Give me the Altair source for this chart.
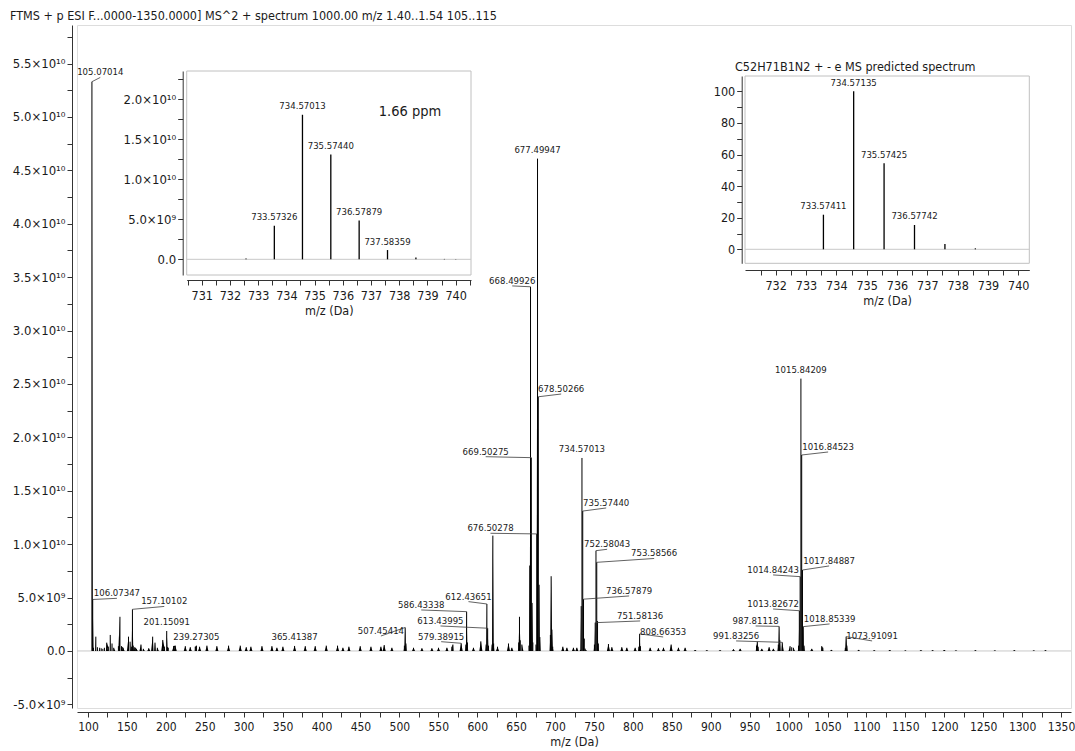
import altair as alt
import pandas as pd

# ---------------------------------------------------------------------------
# MS/MS spectrum of m/z 1000
# ---------------------------------------------------------------------------
MAIN_MZ = [
    105.07014, 106.07347, 107.07, 110.07, 112.08, 115.05, 117.07, 119.09, 121.10,
    124.1, 126.1, 128.6, 130.9, 133.1, 139.1, 141.07, 143.1, 145.1, 152.06, 154.1,
    156.1, 157.10102, 158.1, 160.1, 162.1, 168.1, 171.1, 178.1, 183.1, 186.1, 189.1,
    196.1, 198.1, 201.15091, 202.15, 203.1, 210.1, 212.1, 225.0, 231.4, 237.8,
    239.27305, 243.4, 252.8, 265.6, 280.6, 295.6, 303.3, 309.3, 323.5, 336.3, 342.7,
    350.4, 365.41387, 379.1, 391.9, 406.1, 420.6, 427.5, 435.2, 449.7, 463.5, 476.3,
    480.5, 490.4, 506.45, 507.45414, 508.46, 518.2, 529.0, 541.8, 550.3, 561.1,
    567.5, 568.8, 579.38915, 585.43, 586.43338, 587.44, 595.2, 604.7, 611.43,
    612.43651, 613.43995, 614.44, 619.1, 620.1, 621.1, 626.1, 640.2, 644.5, 653.3,
    654.3, 655.3, 657.4, 666.5, 667.50, 668.49926, 669.50275, 670.51, 671.5, 675.5,
    676.50278, 677.49947, 678.50266, 679.51, 680.51, 694.0, 695.0, 696.0, 697.0,
    710.0, 715.2, 723.6, 728.0, 732.57, 733.57326, 734.57013, 735.57440, 736.57879,
    737.58359, 738.59, 739.6, 740.0, 750.58, 751.58136, 752.58043, 753.58566, 754.59,
    755.59, 768.6, 773.0, 785.8, 792.2, 802.9, 807.66, 808.66353, 809.67, 822.2,
    832.8, 839.3, 849.1, 858.5, 867.1, 880.0, 895.0, 912.0, 929.2, 937.8, 958.8,
    959.8, 960.8, 965.6, 975.0, 980.5, 986.8, 987.81118, 988.81, 991.83256, 1001.9,
    1004.0, 1006.2, 1012.83, 1013.82672, 1014.84243, 1015.84209, 1016.84523,
    1017.84887, 1018.85339, 1019.86, 1029.8, 1042.6, 1044.0, 1055.0, 1072.91,
    1073.91091, 1074.91, 1090.0, 1110.0, 1130.0, 1150.0, 1170.0, 1185.0, 1200.0,
    1215.0, 1240.0, 1265.0, 1290.0, 1315.0, 1330.0,
]
MAIN_INT = [
    5.33e10, 4.82e9, 3.0e8, 1.34e9, 3.5e8, 3.0e8, 2.5e8, 2.0e8, 3.0e8,
    7.8e8, 4.0e8, 1.5e9, 7.0e8, 3.0e8, 4.5e8, 3.2e9, 4.5e8, 3.0e8, 1.34e9, 8.7e8,
    4.0e8, 3.9e9, 5.0e8, 3.5e8, 2.0e8, 6.0e8, 2.0e8, 2.5e8, 1.34e9, 7.8e8, 3.0e8,
    1.03e9, 4.0e8, 1.87e9, 3.5e8, 3.0e8, 4.7e8, 5.0e8, 4.5e8, 3.5e8, 4.0e8,
    5.0e8, 4.0e8, 5.0e8, 4.5e8, 5.0e8, 5.0e8, 3.5e8, 4.0e8, 4.5e8, 4.5e8, 3.0e8,
    4.0e8, 4.7e8, 4.5e8, 4.5e8, 5.0e8, 5.0e8, 3.0e8, 4.0e8, 4.5e8, 4.0e8, 4.0e8,
    5.5e8, 3.0e8, 5.0e8, 2.2e9, 7.0e8, 3.0e8, 2.5e8, 2.5e8, 3.0e8, 3.0e8,
    4.0e8, 6.0e8, 7.2e8, 6.0e8, 3.68e9, 8.0e8, 3.0e8, 9.0e8, 6.0e8,
    4.4e9, 2.13e9, 5.0e8, 6.0e8, 1.08e10, 7.0e8, 4.0e8, 7.0e8, 3.0e8, 8.0e8,
    3.2e9, 1.0e9, 6.0e8, 5.0e8, 8.0e9, 3.41e10, 1.81e10, 4.5e9, 8.0e8, 6.0e8,
    1.096e10, 4.61e10, 2.38e10, 6.2e9, 1.3e9, 1.5e9, 7.0e9, 2.0e9, 4.0e8,
    4.0e8, 3.0e8, 3.0e8, 3.0e8, 1.0e8, 4.2e9, 1.807e10, 1.31e10, 4.85e9,
    1.16e9, 2.2e8, 5.0e7, 5.0e7, 6.0e8, 2.65e9, 9.39e9, 8.3e9, 2.8e9,
    7.0e8, 6.5e8, 3.5e8, 3.5e8, 3.0e8, 3.0e8, 4.0e8, 1.6e9, 4.5e8, 3.0e8,
    2.5e8, 3.0e8, 6.0e8, 3.0e8, 3.0e8, 8.0e7, 6.0e7, 7.0e7, 1.5e8, 2.0e8, 5.0e8,
    8.7e8, 4.0e8, 2.0e8, 3.5e8, 2.0e8, 6.0e8, 2.3e9, 1.0e9, 8.1e8, 4.5e8,
    3.5e8, 3.0e8, 5.0e8, 3.77e9, 6.96e9, 2.55e10, 1.835e10,
    7.58e9, 2.28e9, 5.0e8, 2.0e8, 4.5e8, 3.0e8, 1.0e8, 3.0e8,
    1.34e9, 5.0e8, 1.0e8, 6.0e7, 8.0e7, 5.0e7, 7.0e7, 6.0e7, 9.0e7,
    5.0e7, 6.0e7, 5.0e7, 7.0e7, 5.0e7, 6.0e7,
]

# peaks annotated through a leader line: peak m/z and where the leader ends
LEADER_MZ = [
    105.07014, 106.07347, 157.10102, 507.45414, 579.38915, 586.43338, 612.43651,
    613.43995, 668.49926, 669.50275, 676.50278, 678.50266, 735.57440, 736.57879,
    751.58136, 752.58043, 753.58566, 808.66353, 987.81118, 991.83256, 1013.82672,
    1014.84243, 1016.84523, 1017.84887, 1018.85339, 1073.91091,
]
LEADER_END_MZ = [
    115.8, 137.2, 198.0, 476.3, 553.7, 528.1, 588.8, 552.8, 645.0, 610.9, 617.1,
    707.9, 765.7, 795.2, 809.3, 766.9, 827.3, 838.9, 957.7, 932.6, 980.1, 980.1,
    1050.8, 1052.1, 1052.7, 1107.3,
]
LEADER_END_INT = [
    5.37e10, 4.93e9, 4.17e9, 1.40e9, 8.7e8, 3.84e9, 4.62e9, 2.34e9, 3.418e10,
    1.819e10, 1.102e10, 2.406e10, 1.339e10, 5.15e9, 2.81e9, 9.52e9, 8.66e9, 1.31e9,
    2.34e9, 9.4e8, 3.93e9, 7.12e9, 1.863e10, 7.96e9, 2.53e9, 9.4e8,
]
# peaks annotated directly above their apex
TOP_LABEL_MZ = [201.15091, 239.27305, 365.41387, 677.49947, 734.57013, 1015.84209]

# zoom on the molecular ion cluster
ZOOM_LABEL_MZ = [733.57326, 734.57013, 735.57440, 736.57879, 737.58359]

# predicted isotope pattern of C52H71B1N2+
PRED_MZ = [733.57411, 734.57135, 735.57425, 736.57742, 737.58070, 738.58400, 739.58700]
PRED_REL = [21.9, 100.0, 54.4, 15.4, 3.4, 0.6, 0.1]
PRED_LABEL_MZ = [733.57411, 734.57135, 735.57425, 736.57742]

MAIN_TITLE = "FTMS + p ESI F...0000-1350.0000] MS^2 + spectrum 1000.00 m/z 1.40..1.54 105..115"
INSET2_TITLE = "C52H71B1N2 +  - e MS predicted spectrum"
PPM_TEXT = "1.66 ppm"

# axis ticks and their labels
MAIN_X_LABEL_VALUES = [100, 150, 200, 250, 300, 350, 400, 450, 500, 550, 600, 650, 700,
                       750, 800, 850, 900, 950, 1000, 1050, 1100, 1150, 1200, 1250, 1300, 1350]
MAIN_Y_LABEL_VALUES = [-5e9, 0.0, 5e9, 1e10, 1.5e10, 2e10, 2.5e10, 3e10, 3.5e10,
                       4e10, 4.5e10, 5e10, 5.5e10]
MAIN_Y_LABELS = ["-5.0×10⁹", "0.0", "5.0×10⁹", "1.0×10¹⁰", "1.5×10¹⁰", "2.0×10¹⁰",
                 "2.5×10¹⁰", "3.0×10¹⁰", "3.5×10¹⁰", "4.0×10¹⁰", "4.5×10¹⁰",
                 "5.0×10¹⁰", "5.5×10¹⁰"]
IN1_X_LABEL_VALUES = [731, 732, 733, 734, 735, 736, 737, 738, 739, 740]
IN1_Y_LABEL_VALUES = [0.0, 5e9, 1e10, 1.5e10, 2e10]
IN1_Y_LABELS = ["0.0", "5.0×10⁹", "1.0×10¹⁰", "1.5×10¹⁰", "2.0×10¹⁰"]
IN2_X_LABEL_VALUES = [732, 733, 734, 735, 736, 737, 738, 739, 740]
IN2_Y_LABEL_VALUES = [0, 20, 40, 60, 80, 100]

FONT = "DejaVu Sans Condensed, DejaVu Sans"
INK = "#1a1a1a"
FRAME = "#c0c0c0"
W, H = 994, 683
PROFILE_HALF_WIDTH = 2.0  # m/z half-width of the drawn peak skirt


def label_expr(values, labels):
    parts = [f"datum.value == {float(v)!r} ? '{t}'" for v, t in zip(values, labels)]
    return " : ".join(parts) + " : ''"


def with_minor(values, step):
    return sorted(set([float(v) for v in values] + [float(v) + step for v in values]
                      + [float(values[0]) - step]))


def axis_style(size, pad):
    return dict(grid=False, tickSize=5, tickColor="#333333", domainColor="#333333",
                labelFont=FONT, labelFontSize=size, labelColor=INK, labelPadding=pad,
                labelOverlap=False, labelFlush=False, titleFont=FONT, titleFontSize=12.5,
                titleFontWeight="normal", titleColor=INK, titlePadding=3)


# ---------------------------------------------------------------- data frames
main_df = pd.DataFrame({"mz": MAIN_MZ, "intensity": MAIN_INT})
main_df["base"] = 0.0
peak_lookup = dict(zip(MAIN_MZ, MAIN_INT))

# each peak also gets a narrow skirt: foot, apex, foot
skirt_rows = []
for i, (m, h) in enumerate(zip(MAIN_MZ, MAIN_INT)):
    skirt_rows += [(i, m - PROFILE_HALF_WIDTH, 0.0), (i, m, h), (i, m + PROFILE_HALF_WIDTH, 0.0)]
skirt_df = pd.DataFrame(skirt_rows, columns=["peak", "mz", "intensity"])

lead_df = pd.DataFrame({"mz": LEADER_MZ, "end_mz": LEADER_END_MZ, "end_int": LEADER_END_INT})
lead_df["intensity"] = [peak_lookup[m] for m in LEADER_MZ]
lead_df["label"] = [f"{m:.5f}" for m in LEADER_MZ]

top_df = pd.DataFrame({"mz": TOP_LABEL_MZ})
top_df["intensity"] = [peak_lookup[m] for m in TOP_LABEL_MZ]
top_df["label"] = [f"{m:.5f}" for m in TOP_LABEL_MZ]

# ---------------------------------------------------------------- scales
MAIN_XD, MAIN_YD = [85.9, 1362.8], [-5.34e9, 5.861e10]
IN1_XD, IN1_YD = [730.468, 740.542], [-1.96e9, 2.354e10]
IN2_XD, IN2_YD = [730.988, 740.363], [-8.86, 109.7]


def xs_main():
    return alt.Scale(domain=MAIN_XD, range=[0, W], nice=False, zero=False)


def ys_main():
    return alt.Scale(domain=MAIN_YD, range=[H, 0], nice=False, zero=False)


def xs_in1():
    return alt.Scale(domain=IN1_XD, range=[109.7, 394], nice=False, zero=False)


def ys_in1():
    return alt.Scale(domain=IN1_YD, range=[250, 46], nice=False, zero=False)


def xs_in2():
    return alt.Scale(domain=IN2_XD, range=[668, 952.3], nice=False, zero=False)


def ys_in2():
    return alt.Scale(domain=IN2_YD, range=[238.3, 51], nice=False, zero=False)


# ---------------------------------------------------------------- main spectrum
x_main_axis = alt.Axis(orient="bottom", offset=4,
                       values=with_minor(MAIN_X_LABEL_VALUES, 25),
                       labelExpr=label_expr(MAIN_X_LABEL_VALUES, [str(v) for v in MAIN_X_LABEL_VALUES]),
                       **axis_style(12, 4))
y_main_axis = alt.Axis(orient="left", offset=5,
                       values=with_minor(MAIN_Y_LABEL_VALUES, 2.5e9),
                       labelExpr=label_expr(MAIN_Y_LABEL_VALUES, MAIN_Y_LABELS),
                       **axis_style(13, 2))

zero_main = alt.Chart(pd.DataFrame({"v": [0.0]})).mark_rule(color="#c8c8c8", strokeWidth=1).encode(
    y=alt.Y("v:Q", scale=ys_main(), axis=None))

skirts = alt.Chart(skirt_df).mark_area(color="black", interpolate="linear").encode(
    x=alt.X("mz:Q", scale=xs_main(), axis=None),
    y=alt.Y("intensity:Q", scale=ys_main(), axis=None),
    detail="peak:N")

peaks = alt.Chart(main_df).mark_rule(color="black", strokeWidth=1).encode(
    x=alt.X("mz:Q", scale=xs_main(), axis=x_main_axis, title="m/z (Da)"),
    y=alt.Y("base:Q", scale=ys_main(), axis=y_main_axis, title=None),
    y2="intensity:Q")

leaders = alt.Chart(lead_df).mark_rule(color="#3a3a3a", strokeWidth=0.8).encode(
    x=alt.X("mz:Q", scale=xs_main(), axis=None),
    y=alt.Y("intensity:Q", scale=ys_main(), axis=None),
    x2="end_mz:Q", y2="end_int:Q")

leader_text = alt.Chart(lead_df).mark_text(font=FONT, fontSize=9.5, color=INK,
                                           baseline="middle", dy=-5).encode(
    x=alt.X("end_mz:Q", scale=xs_main(), axis=None),
    y=alt.Y("end_int:Q", scale=ys_main(), axis=None),
    text="label:N")

top_text = alt.Chart(top_df).mark_text(font=FONT, fontSize=9.5, color=INK,
                                       baseline="middle", dy=-9).encode(
    x=alt.X("mz:Q", scale=xs_main(), axis=None),
    y=alt.Y("intensity:Q", scale=ys_main(), axis=None),
    text="label:N")

title_text = alt.Chart(pd.DataFrame({"t": [MAIN_TITLE]})).mark_text(
    font=FONT, fontSize=12.5, color=INK, align="left", baseline="alphabetic").encode(
    x=alt.value(-67), y=alt.value(-5), text="t:N")

# ---------------------------------------------------------------- inset: measured cluster
in1_df = main_df[(main_df["mz"] > IN1_XD[0]) & (main_df["mz"] < IN1_XD[1])]
in1_lab = pd.DataFrame({"mz": ZOOM_LABEL_MZ})
in1_lab["intensity"] = [peak_lookup[m] for m in ZOOM_LABEL_MZ]
in1_lab["label"] = [f"{m:.5f}" for m in ZOOM_LABEL_MZ]
in1_box = pd.DataFrame({"x1": [IN1_XD[0]], "x2": [IN1_XD[1]],
                        "y1": [IN1_YD[0]], "y2": [IN1_YD[1]], "z": [0.0]})

in1_x_axis = alt.Axis(orient="bottom", offset=-428,
                      values=with_minor(IN1_X_LABEL_VALUES, 0.5),
                      labelExpr=label_expr(IN1_X_LABEL_VALUES, [str(v) for v in IN1_X_LABEL_VALUES]),
                      **axis_style(12.5, 4))
in1_y_axis = alt.Axis(orient="left", offset=-105.7,
                      values=[v for v in with_minor(IN1_Y_LABEL_VALUES, 2.5e9) if v >= 0],
                      labelExpr=label_expr(IN1_Y_LABEL_VALUES, IN1_Y_LABELS),
                      **axis_style(13, 2))

in1_frame = alt.Chart(in1_box).mark_rect(fill="white", stroke=FRAME, strokeWidth=1).encode(
    x=alt.X("x1:Q", scale=xs_in1(), axis=None), x2="x2:Q",
    y=alt.Y("y1:Q", scale=ys_in1(), axis=None), y2="y2:Q")
in1_zero = alt.Chart(in1_box).mark_rule(color="#c8c8c8", strokeWidth=1).encode(
    x=alt.X("x1:Q", scale=xs_in1(), axis=None), x2="x2:Q",
    y=alt.Y("z:Q", scale=ys_in1(), axis=None))
in1_peaks = alt.Chart(in1_df).mark_rule(color="black", strokeWidth=1.3).encode(
    x=alt.X("mz:Q", scale=xs_in1(), axis=in1_x_axis, title="m/z (Da)"),
    y=alt.Y("base:Q", scale=ys_in1(), axis=in1_y_axis, title=None),
    y2="intensity:Q")
in1_text = alt.Chart(in1_lab).mark_text(font=FONT, fontSize=9.5, color=INK,
                                        baseline="middle", dy=-8.5).encode(
    x=alt.X("mz:Q", scale=xs_in1(), axis=None),
    y=alt.Y("intensity:Q", scale=ys_in1(), axis=None),
    text="label:N")
ppm = alt.Chart(pd.DataFrame({"t": [PPM_TEXT]})).mark_text(
    font=FONT, fontSize=14.5, color=INK, align="center", baseline="middle").encode(
    x=alt.value(333), y=alt.value(86.7), text="t:N")

# ---------------------------------------------------------------- inset: predicted pattern
in2_df = pd.DataFrame({"mz": PRED_MZ, "rel": PRED_REL})
in2_df["base"] = 0.0
pred_lookup = dict(zip(PRED_MZ, PRED_REL))
in2_lab = pd.DataFrame({"mz": PRED_LABEL_MZ})
in2_lab["rel"] = [pred_lookup[m] for m in PRED_LABEL_MZ]
in2_lab["label"] = [f"{m:.5f}" for m in PRED_LABEL_MZ]
in2_box = pd.DataFrame({"x1": [IN2_XD[0]], "x2": [IN2_XD[1]],
                        "y1": [IN2_YD[0]], "y2": [IN2_YD[1]], "z": [0.0]})

in2_x_axis = alt.Axis(orient="bottom", offset=-438,
                      values=[v for v in with_minor(IN2_X_LABEL_VALUES, 0.5) if v > IN2_XD[0]],
                      labelExpr=label_expr(IN2_X_LABEL_VALUES, [str(v) for v in IN2_X_LABEL_VALUES]),
                      **axis_style(12.5, 4))
in2_y_axis = alt.Axis(orient="left", offset=-664.7,
                      values=[v for v in with_minor(IN2_Y_LABEL_VALUES, 10) if 0 <= v <= 100],
                      labelExpr=label_expr(IN2_Y_LABEL_VALUES, [str(v) for v in IN2_Y_LABEL_VALUES]),
                      **axis_style(12.5, 2))

in2_frame = alt.Chart(in2_box).mark_rect(fill="white", stroke=FRAME, strokeWidth=1).encode(
    x=alt.X("x1:Q", scale=xs_in2(), axis=None), x2="x2:Q",
    y=alt.Y("y1:Q", scale=ys_in2(), axis=None), y2="y2:Q")
in2_zero = alt.Chart(in2_box).mark_rule(color="#c8c8c8", strokeWidth=1).encode(
    x=alt.X("x1:Q", scale=xs_in2(), axis=None), x2="x2:Q",
    y=alt.Y("z:Q", scale=ys_in2(), axis=None))
in2_peaks = alt.Chart(in2_df).mark_rule(color="black", strokeWidth=1.3).encode(
    x=alt.X("mz:Q", scale=xs_in2(), axis=in2_x_axis, title="m/z (Da)"),
    y=alt.Y("base:Q", scale=ys_in2(), axis=in2_y_axis, title=None),
    y2="rel:Q")
in2_text = alt.Chart(in2_lab).mark_text(font=FONT, fontSize=9.5, color=INK,
                                        baseline="middle", dy=-8.5).encode(
    x=alt.X("mz:Q", scale=xs_in2(), axis=None),
    y=alt.Y("rel:Q", scale=ys_in2(), axis=None),
    text="label:N")
in2_title = alt.Chart(pd.DataFrame({"t": [INSET2_TITLE]})).mark_text(
    font=FONT, fontSize=12.5, color=INK, align="left", baseline="middle").encode(
    x=alt.value(658), y=alt.value(41.7), text="t:N")

# ---------------------------------------------------------------- assemble
chart = (
    alt.layer(
        zero_main, skirts, peaks, leaders, leader_text, top_text, title_text,
        in1_frame, in1_zero, in1_peaks, in1_text, ppm,
        in2_frame, in2_zero, in2_peaks, in2_text, in2_title,
    )
    .resolve_scale(x="independent", y="independent")
    .properties(width=W, height=H,
                padding={"left": 77, "top": 25, "right": 4, "bottom": 43},
                autosize=alt.AutoSizeParams(type="none"))
    .configure_view(stroke=FRAME, strokeWidth=1)
    .configure(background="white")
)

chart.save("out.html", embed_options={"renderer": "svg", "actions": False})
